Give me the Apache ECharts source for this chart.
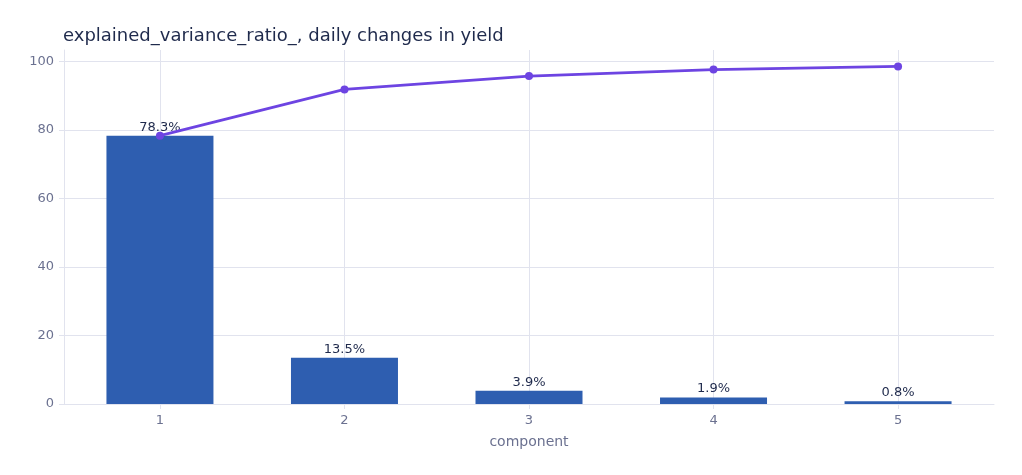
<!DOCTYPE html>
<html>
<head>
<meta charset="utf-8">
<script src="https://cdn.jsdelivr.net/npm/echarts@6/dist/echarts.min.js"></script>
<style>
html, body { margin: 0; padding: 0; background: #fff; }
#chart { width: 1022px; height: 475px; }
</style>
</head>
<body>
<div id="chart"></div>
<script>
var components = [1, 2, 3, 4, 5];
var ratioPct = [78.3, 13.5, 3.9, 1.9, 0.8];
var cumulativePct = [78.3, 91.8, 95.7, 97.6, 98.5];
var yTicks = [0, 20, 40, 60, 80, 100];

var chart = echarts.init(document.getElementById('chart'));

var barData = [];
var lineData = [];
for (var i = 0; i < components.length; i++) {
    barData.push([components[i], ratioPct[i]]);
    lineData.push([components[i], cumulativePct[i]]);
}

var gridColor = '#e1e3ee';
var tickText = '#6b7190';

var option = {
    animation: false,
    textStyle: { fontFamily: 'DejaVu Sans' },
    title: {
        text: 'explained_variance_ratio_, daily changes in yield',
        left: 58,
        top: 22,
        textStyle: { color: '#1f2a4c', fontSize: 18, fontWeight: 'normal', fontFamily: 'DejaVu Sans' }
    },
    grid: { left: 64, right: 28, top: 50, bottom: 71 },
    xAxis: {
        type: 'value',
        min: 0.48,
        max: 5.52,
        name: 'component',
        nameLocation: 'middle',
        nameGap: 31,
        nameTextStyle: { color: tickText, fontSize: 14 },
        axisLine: { show: true, lineStyle: { color: gridColor } },
        axisTick: { show: true, length: 5, lineStyle: { color: gridColor }, customValues: components },
        axisLabel: { color: tickText, fontSize: 13, margin: 10, customValues: components },
        splitLine: { show: true, lineStyle: { color: gridColor } }
    },
    yAxis: {
        type: 'value',
        min: 0,
        max: 103.3,
        axisLine: { show: true, lineStyle: { color: gridColor } },
        axisTick: { show: true, length: 5, lineStyle: { color: gridColor }, customValues: yTicks },
        axisLabel: { color: tickText, fontSize: 13, margin: 10, customValues: yTicks },
        splitLine: { show: true, lineStyle: { color: gridColor } }
    },
    series: [{
        type: 'bar',
        data: barData,
        barWidth: 107,
        itemStyle: { color: '#2e5eb0' },
        label: {
            show: true,
            position: 'top',
            distance: 2,
            color: '#1f2a4c',
            fontSize: 13,
            formatter: function (p) { return p.value[1].toFixed(1) + '%'; }
        }
    }, {
        type: 'line',
        data: lineData,
        symbol: 'circle',
        symbolSize: 8,
        itemStyle: { color: '#6d44e2' },
        lineStyle: { color: '#6d44e2', width: 2.7 }
    }]
};

chart.setOption(option);
</script>
</body>
</html>
